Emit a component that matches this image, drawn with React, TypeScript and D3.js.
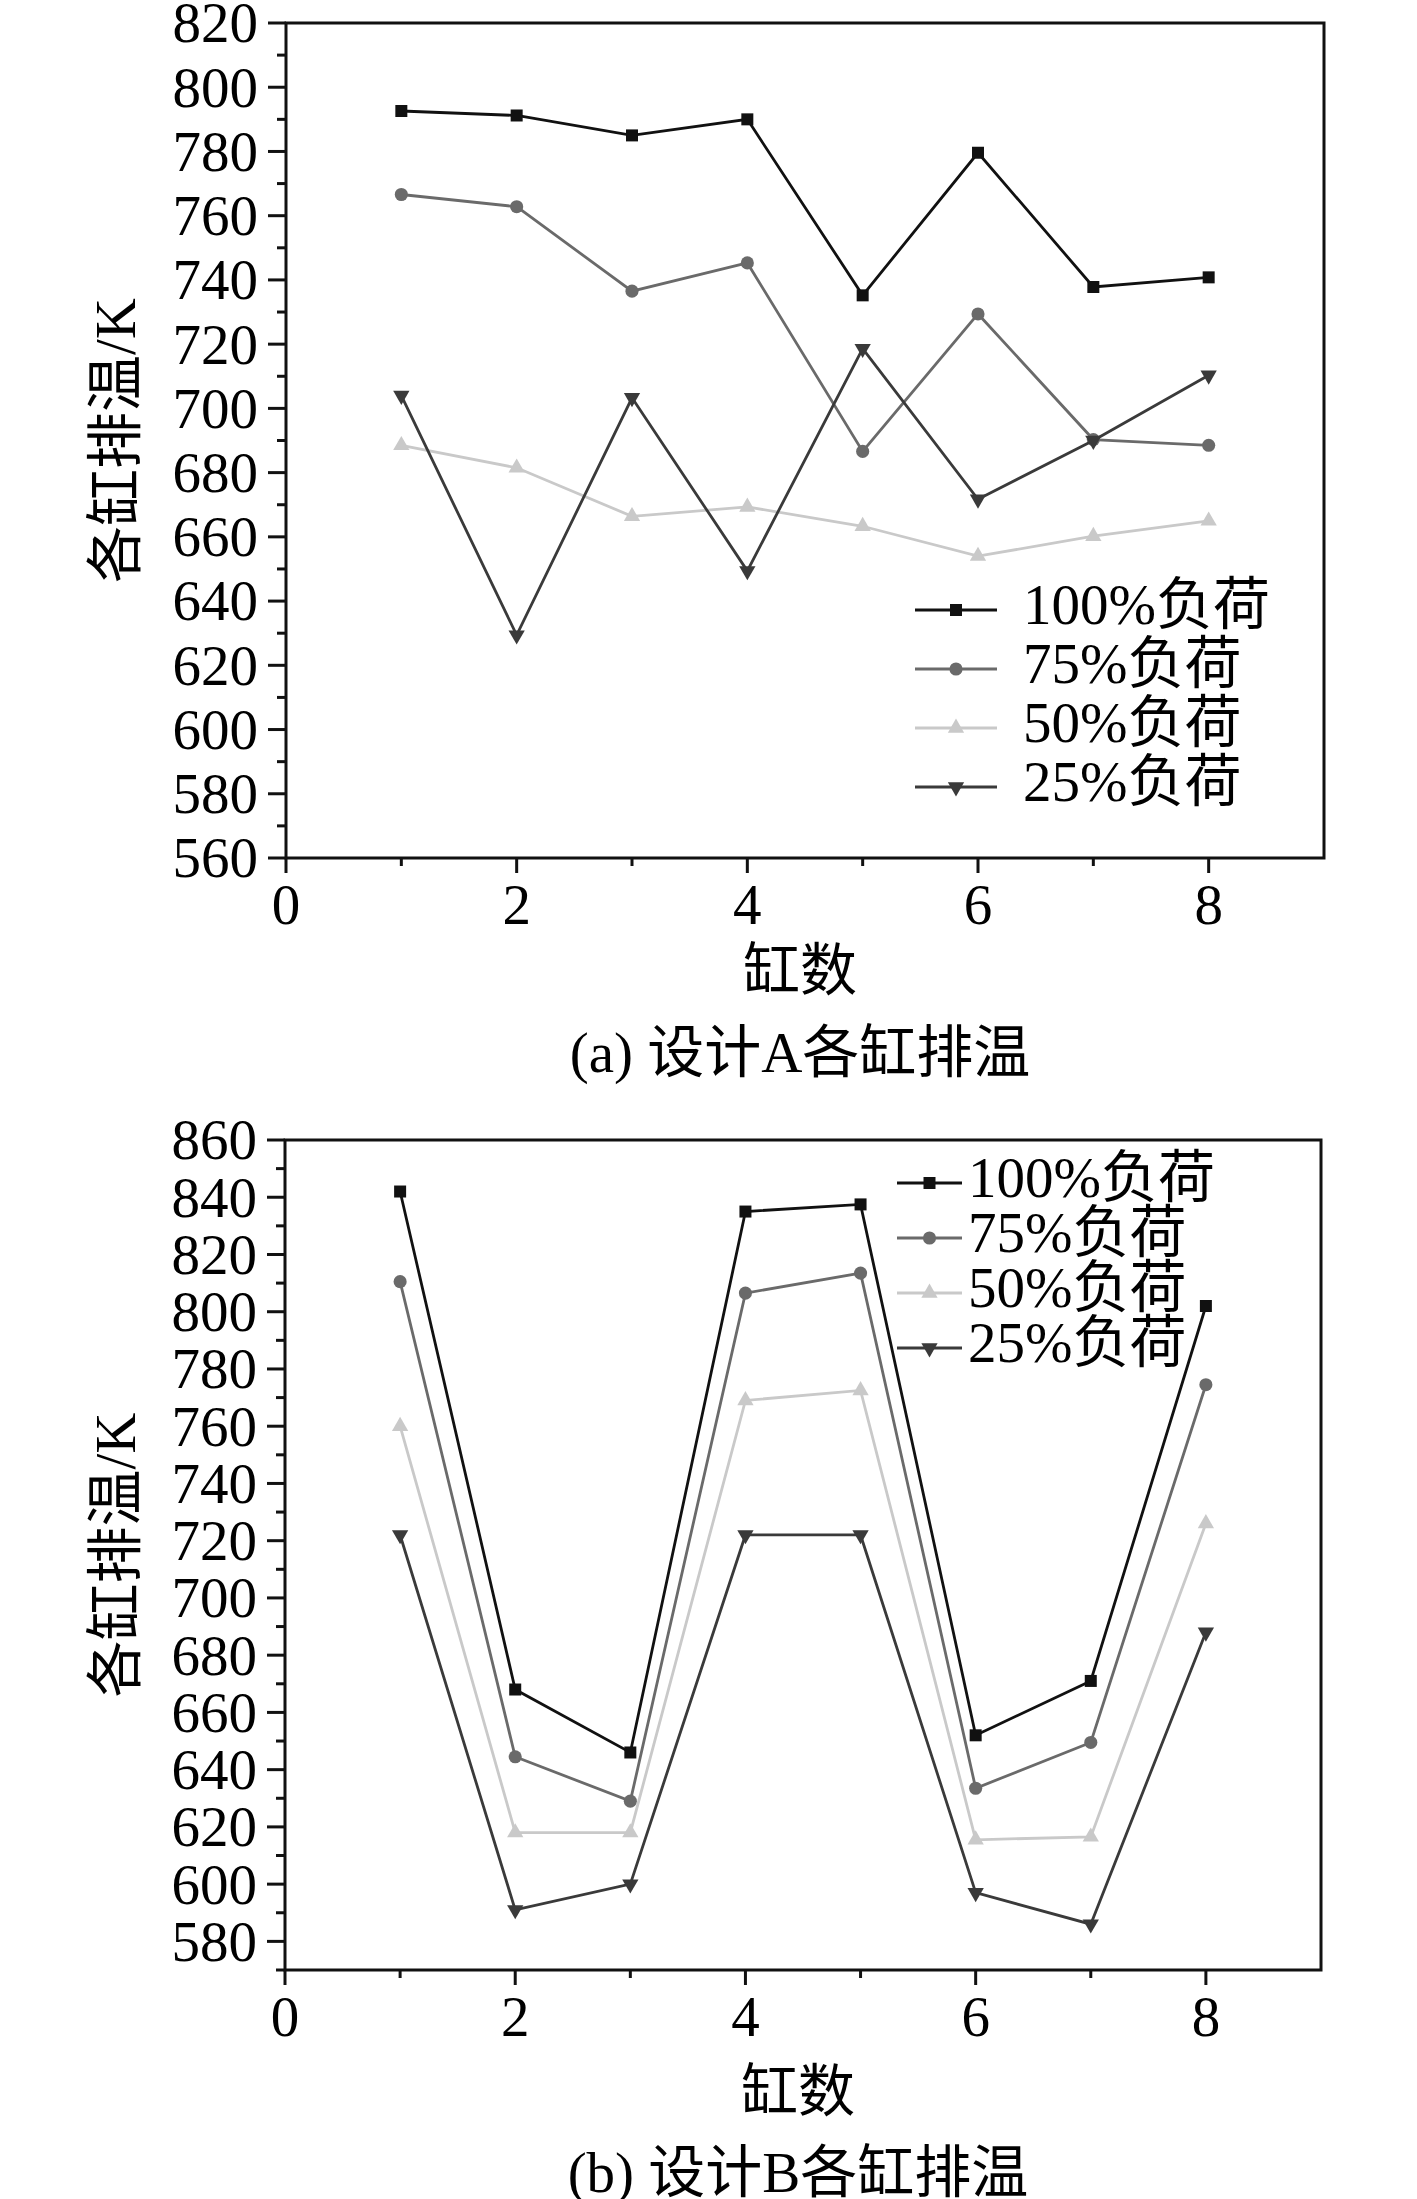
import { useEffect, useRef } from "react";
import * as d3 from "d3";

// cylinder numbers on the x axis
const cylinders = [1, 2, 3, 4, 5, 6, 7, 8];
const loadLabels = ["100%负荷", "75%负荷", "50%负荷", "25%负荷"];

// design A exhaust temperature per cylinder (K)
const aLoad100 = [792.6, 791.2, 785, 790, 735.2, 779.6, 737.8, 740.8];
const aLoad75 = [766.6, 762.8, 736.5, 745.3, 686.6, 729.4, 690.3, 688.5];
const aLoad50 = [688.5, 681.5, 666.4, 669.3, 663.3, 654, 660.2, 665];
const aLoad25 = [704, 629.4, 703.3, 649.4, 718.6, 671.7, 690, 710.3];

// design B exhaust temperature per cylinder (K)
const bLoad100 = [842, 668, 646, 835, 837.5, 652, 671, 802];
const bLoad75 = [810.5, 644.5, 629, 806.5, 813.5, 633.5, 649.5, 774.5];
const bLoad50 = [760, 618, 618, 769, 772.5, 615.5, 616.5, 726];
const bLoad25 = [722, 591, 600, 722, 722, 597, 586, 688];

const xTickLabels = [0, 2, 4, 6, 8];
const xMinorTicks = [1, 3, 5, 7];
const aYTickLabels = [560, 580, 600, 620, 640, 660, 680, 700, 720, 740, 760, 780, 800, 820];
const bYTickLabels = [580, 600, 620, 640, 660, 680, 700, 720, 740, 760, 780, 800, 820, 840, 860];

const seriesColors = ["#111111", "#6a6a6a", "#c9c9c9", "#3a3a3a"];
const FONT = '"Liberation Serif", "Times New Roman", "Noto Sans CJK SC", serif';
const FONT_SIZE = 57;

type PanelConfig = {
  left: number;
  right: number;
  top: number;
  bottom: number;
  yDomain: [number, number];
  yTicks: number[];
  series: number[][];
  legend: { x0: number; x1: number; textX: number; y0: number; dy: number };
  xTitleY: number;
  captionY: number;
  caption: string;
};

const panels: PanelConfig[] = [
  {
    left: 286,
    right: 1324,
    top: 23,
    bottom: 858,
    yDomain: [560, 820],
    yTicks: aYTickLabels,
    series: [aLoad100, aLoad75, aLoad50, aLoad25],
    legend: { x0: 915, x1: 997, textX: 1023, y0: 610, dy: 59 },
    xTitleY: 970,
    captionY: 1052,
    caption: "(a) 设计A各缸排温",
  },
  {
    left: 285,
    right: 1321,
    top: 1140,
    bottom: 1970,
    yDomain: [570, 860],
    yTicks: bYTickLabels,
    series: [bLoad100, bLoad75, bLoad50, bLoad25],
    legend: { x0: 897, x1: 962, textX: 968, y0: 1183, dy: 55 },
    xTitleY: 2091,
    captionY: 2172,
    caption: "(b) 设计B各缸排温",
  },
];

function markerPath(i: number) {
  if (i === 0) return d3.symbol(d3.symbolSquare, 144)()!;
  if (i === 1) return d3.symbol(d3.symbolCircle, 135)()!;
  return d3.symbol(d3.symbolTriangle, 115)()!;
}

function drawPanel(svg: d3.Selection<SVGSVGElement, unknown, null, undefined>, cfg: PanelConfig) {
  const x = d3.scaleLinear().domain([0, 9]).range([cfg.left, cfg.right]);
  const y = d3.scaleLinear().domain(cfg.yDomain).range([cfg.bottom, cfg.top]);
  const g = svg.append("g");

  // Frame
  g.append("rect")
    .attr("x", cfg.left)
    .attr("y", cfg.top)
    .attr("width", cfg.right - cfg.left)
    .attr("height", cfg.bottom - cfg.top)
    .attr("fill", "none")
    .attr("stroke", "#111")
    .attr("stroke-width", 3);

  // Y ticks
  const yMinor = cfg.yTicks
    .map((v) => v - 10)
    .filter((v) => v >= cfg.yDomain[0]);
  g.selectAll(".ymaj")
    .data(cfg.yTicks)
    .join("line")
    .attr("x1", cfg.left - 18)
    .attr("x2", cfg.left)
    .attr("y1", (d) => y(d))
    .attr("y2", (d) => y(d))
    .attr("stroke", "#111")
    .attr("stroke-width", 3);
  g.selectAll(".ymin")
    .data(yMinor)
    .join("line")
    .attr("x1", cfg.left - 9)
    .attr("x2", cfg.left)
    .attr("y1", (d) => y(d))
    .attr("y2", (d) => y(d))
    .attr("stroke", "#111")
    .attr("stroke-width", 3);
  g.selectAll(".ylab")
    .data(cfg.yTicks)
    .join("text")
    .attr("x", cfg.left - 28)
    .attr("y", (d) => y(d))
    .attr("dy", "0.34em")
    .attr("text-anchor", "end")
    .style("font-family", FONT)
    .style("font-size", `${FONT_SIZE}px`)
    .text((d) => d);

  // X ticks
  g.selectAll(".xmaj")
    .data(xTickLabels)
    .join("line")
    .attr("x1", (d) => x(d))
    .attr("x2", (d) => x(d))
    .attr("y1", cfg.bottom)
    .attr("y2", cfg.bottom + 15)
    .attr("stroke", "#111")
    .attr("stroke-width", 3);
  g.selectAll(".xmin")
    .data(xMinorTicks)
    .join("line")
    .attr("x1", (d) => x(d))
    .attr("x2", (d) => x(d))
    .attr("y1", cfg.bottom)
    .attr("y2", cfg.bottom + 8)
    .attr("stroke", "#111")
    .attr("stroke-width", 3);
  g.selectAll(".xlab")
    .data(xTickLabels)
    .join("text")
    .attr("x", (d) => x(d))
    .attr("y", cfg.bottom + 66)
    .attr("text-anchor", "middle")
    .style("font-family", FONT)
    .style("font-size", `${FONT_SIZE}px`)
    .text((d) => d);

  // Axis titles
  const midX = (cfg.left + cfg.right) / 2 - 5;
  g.append("text")
    .attr("x", midX)
    .attr("y", cfg.xTitleY)
    .attr("dy", "0.35em")
    .attr("text-anchor", "middle")
    .style("font-family", FONT)
    .style("font-size", `${FONT_SIZE}px`)
    .text("缸数");
  g.append("text")
    .attr("transform", `translate(115,${(cfg.top + cfg.bottom) / 2}) rotate(-90)`)
    .attr("dy", "0.35em")
    .attr("text-anchor", "middle")
    .style("font-family", FONT)
    .style("font-size", `${FONT_SIZE}px`)
    .text("各缸排温/K");
  g.append("text")
    .attr("x", midX)
    .attr("y", cfg.captionY)
    .attr("dy", "0.35em")
    .attr("text-anchor", "middle")
    .style("font-family", FONT)
    .style("font-size", `${FONT_SIZE}px`)
    .text(cfg.caption);

  // Series lines and markers
  const line = d3
    .line<number>()
    .x((_, i) => x(cylinders[i]))
    .y((d) => y(d));

  cfg.series.forEach((values, si) => {
    g.append("path")
      .attr("d", line(values))
      .attr("fill", "none")
      .attr("stroke", seriesColors[si])
      .attr("stroke-width", 2.8);
    g.selectAll(`.m${si}`)
      .data(values)
      .join("path")
      .attr("d", markerPath(si))
      .attr(
        "transform",
        (d, i) => `translate(${x(cylinders[i])},${y(d)})${si === 3 ? " rotate(180)" : ""}`
      )
      .attr("fill", seriesColors[si]);
  });

  // Legend
  const lg = cfg.legend;
  loadLabels.forEach((label, si) => {
    const ly = lg.y0 + si * lg.dy;
    g.append("line")
      .attr("x1", lg.x0)
      .attr("x2", lg.x1)
      .attr("y1", ly)
      .attr("y2", ly)
      .attr("stroke", seriesColors[si])
      .attr("stroke-width", 2.8);
    g.append("path")
      .attr("d", markerPath(si))
      .attr("transform", `translate(${(lg.x0 + lg.x1) / 2},${ly})${si === 3 ? " rotate(180)" : ""}`)
      .attr("fill", seriesColors[si]);
    g.append("text")
      .attr("x", lg.textX)
      .attr("y", ly + 14)
      .style("font-family", FONT)
      .style("font-size", `${FONT_SIZE}px`)
      .text(label);
  });
}

export default function App() {
  const svgRef = useRef<SVGSVGElement>(null);

  useEffect(() => {
    if (!svgRef.current) return;
    const svg = d3.select(svgRef.current);
    svg.selectAll("*").remove();
    svg.append("rect").attr("width", 1417).attr("height", 2199).attr("fill", "#fff");
    panels.forEach((p) => drawPanel(svg, p));
  }, []);

  return (
    <svg
      ref={svgRef}
      width={1417}
      height={2199}
      style={{ position: "absolute", left: 0, top: 0, display: "block" }}
    />
  );
}
